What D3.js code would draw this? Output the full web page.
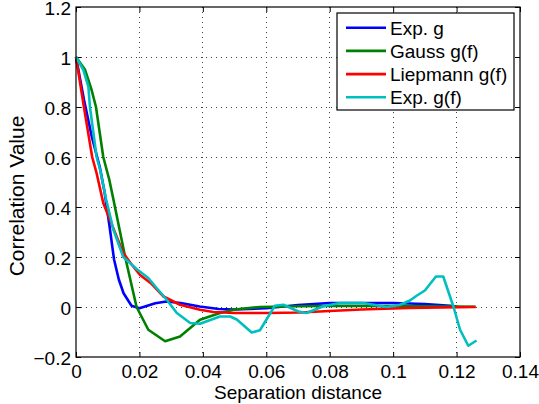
<!DOCTYPE html>
<html><head><meta charset="utf-8">
<script src="https://cdn.jsdelivr.net/npm/d3@7"></script>
<style>body{margin:0;background:#fff}svg{display:block}text{font-family:"Liberation Sans",Arial,Helvetica,sans-serif}</style>
</head><body><svg id="c" width="539" height="404"></svg>
<script>
const xTicks = [0, 0.02, 0.04, 0.06, 0.08, 0.1, 0.12, 0.14];
const yTicks = [-0.2, 0, 0.2, 0.4, 0.6, 0.8, 1, 1.2];
const xTickLabels = ["0", "0.02", "0.04", "0.06", "0.08", "0.1", "0.12", "0.14"];
const yTickLabels = ["\u22120.2", "0", "0.2", "0.4", "0.6", "0.8", "1", "1.2"];
const seriesNames = ["Exp. g", "Gauss g(f)", "Liepmann g(f)", "Exp. g(f)"];
const seriesColors = ["#0000ff", "#008000", "#ff0000", "#00bfbf"];

const expG_x = [0,0.0025,0.005,0.0075,0.009,0.0105,0.012,0.0135,0.015,0.0175,0.02,0.0225,0.025,0.0285,0.033,0.039,0.045,0.05,0.06,0.07,0.08,0.09,0.1,0.11,0.118,0.12];
const expG_y = [1,0.83,0.68,0.56,0.46,0.33,0.19,0.11,0.055,0.005,-0.005,0.005,0.015,0.022,0.016,0.002,-0.008,-0.01,-0.005,0.008,0.016,0.016,0.016,0.012,0.005,0.002];

const gauss_x = [0,0.0028,0.0049,0.0063,0.0086,0.0105,0.0118,0.0155,0.0191,0.0228,0.0281,0.0328,0.0391,0.0454,0.05,0.058,0.07,0.08,0.09,0.1,0.11,0.12,0.126];
const gauss_y = [1,0.95,0.869,0.8,0.6,0.509,0.43,0.2,0,-0.091,-0.137,-0.118,-0.051,-0.024,-0.01,0,0.003,0.004,0.004,0.004,0.003,0.002,0.001];

const liep_x = [0,0.0025,0.0051,0.0065,0.0086,0.0107,0.0128,0.0149,0.0176,0.0202,0.0239,0.0276,0.0328,0.0391,0.0433,0.05,0.06,0.0706,0.08,0.09,0.105,0.126];
const liep_y = [1,0.8,0.6,0.535,0.416,0.349,0.282,0.216,0.169,0.128,0.092,0.042,0.009,-0.011,-0.02,-0.024,-0.024,-0.022,-0.016,-0.01,-0.004,0];

const expGf_x = [0,0.0023,0.0039,0.0044,0.0065,0.0076,0.0095,0.0118,0.0149,0.0191,0.0228,0.0254,0.0286,0.0318,0.036,0.0391,0.0454,0.0486,0.0507,0.0554,0.058,0.0627,0.0654,0.0701,0.0727,0.078,0.0832,0.0906,0.098,0.1022,0.1053,0.1074,0.110,0.1135,0.1158,0.119,0.1211,0.1237,0.1263];
const expGf_y = [1,0.949,0.882,0.8,0.6,0.549,0.43,0.309,0.2,0.152,0.116,0.076,0.029,-0.024,-0.064,-0.067,-0.038,-0.038,-0.05,-0.102,-0.093,0.005,0.009,-0.018,-0.024,0.003,0.016,0.016,0,0.009,0.026,0.045,0.066,0.122,0.122,0.002,-0.091,-0.155,-0.134];

const series = [
  {name: seriesNames[0], color: seriesColors[0], x: expG_x, y: expG_y},
  {name: seriesNames[1], color: seriesColors[1], x: gauss_x, y: gauss_y},
  {name: seriesNames[2], color: seriesColors[2], x: liep_x, y: liep_y},
  {name: seriesNames[3], color: seriesColors[3], x: expGf_x, y: expGf_y}
];

const L = 76, R = 520, T = 7, B = 357;
const FS = 19;
const svg = d3.select("#c");
const x = d3.scaleLinear().domain([0, 0.14]).range([L, R]);
const y = d3.scaleLinear().domain([-0.2, 1.2]).range([B, T]);

// grid
const grid = svg.append("g");
grid.selectAll("line.gx").data(xTicks.slice(1, -1)).enter().append("line")
  .attr("x1", d => x(d)).attr("x2", d => x(d)).attr("y1", T).attr("y2", B)
  .attr("stroke", "#444").attr("stroke-width", 1).attr("stroke-dasharray", "1,4").attr("shape-rendering", "crispEdges");
grid.selectAll("line.gy").data(yTicks.slice(1, -1)).enter().append("line")
  .attr("y1", d => y(d)).attr("y2", d => y(d)).attr("x1", L).attr("x2", R)
  .attr("stroke", "#444").attr("stroke-width", 1).attr("stroke-dasharray", "1,4").attr("shape-rendering", "crispEdges");

// axes with inward ticks
const tk = 5;
const fmtX = (d, i) => xTickLabels[i];
const fmtY = (d, i) => yTickLabels[i];
const ax = svg.append("g").attr("transform", `translate(0,${B})`)
  .call(d3.axisBottom(x).tickValues(xTicks).tickFormat(fmtX).tickSizeInner(-tk).tickSizeOuter(0).tickPadding(8));
const ay = svg.append("g").attr("transform", `translate(${L},0)`)
  .call(d3.axisLeft(y).tickValues(yTicks).tickFormat(fmtY).tickSizeInner(-tk).tickSizeOuter(0).tickPadding(5));
const at = svg.append("g").attr("transform", `translate(0,${T})`)
  .call(d3.axisTop(x).tickValues(xTicks).tickFormat("").tickSizeInner(-tk).tickSizeOuter(0));
const ar = svg.append("g").attr("transform", `translate(${R},0)`)
  .call(d3.axisRight(y).tickValues(yTicks).tickFormat("").tickSizeInner(-tk).tickSizeOuter(0));
[ax, ay, at, ar].forEach(g => {
  g.select(".domain").remove();
  g.selectAll("line").attr("stroke", "#000");
  g.selectAll("text").attr("font-size", FS).attr("fill", "#000").attr("font-family", "Liberation Sans, Arial, sans-serif");
});
ay.selectAll("text").attr("y", 1.2);

// lines
const line = d3.line().x(d => x(d[0])).y(d => y(d[1]));
series.forEach(s => {
  svg.append("path").datum(s.x.map((v, i) => [v, s.y[i]]))
    .attr("d", line).attr("fill", "none").attr("stroke", s.color)
    .attr("stroke-width", 2.6).attr("stroke-linejoin", "round");
});

// box
svg.append("rect").attr("x", L).attr("y", T).attr("width", R - L).attr("height", B - T)
  .attr("fill", "none").attr("stroke", "#000").attr("stroke-width", 1.2);

// labels
svg.append("text").attr("x", (L + R) / 2).attr("y", 399).attr("text-anchor", "middle")
  .attr("font-size", FS).text("Separation distance");
svg.append("text").attr("transform", `translate(24,196) rotate(-90)`).attr("text-anchor", "middle")
  .attr("font-size", 21).text("Correlation Value");

// legend
const lg = svg.append("g");
lg.append("rect").attr("x", 337).attr("y", 13).attr("width", 177).attr("height", 97)
  .attr("fill", "#fff").attr("stroke", "#000").attr("stroke-width", 1.2);
series.forEach((s, i) => {
  const cy = 27.7 + i * 23.2;
  lg.append("line").attr("x1", 346).attr("x2", 386).attr("y1", cy).attr("y2", cy)
    .attr("stroke", s.color).attr("stroke-width", 2.6);
  lg.append("text").attr("x", 390).attr("y", cy + 7).attr("font-size", FS).text(s.name);
});
</script></body></html>
